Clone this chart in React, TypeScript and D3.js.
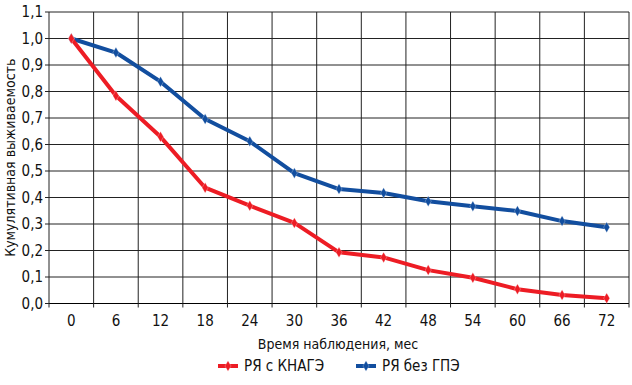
import * as d3 from 'd3';

const MONTHS = ['0', '6', '12', '18', '24', '30', '36', '42', '48', '54', '60', '66', '72'];
const WITH_KNAGE = [1.0, 0.784, 0.629, 0.437, 0.369, 0.304, 0.193, 0.174, 0.126, 0.097, 0.054, 0.032, 0.02];
const WITHOUT_GPE = [1.0, 0.947, 0.837, 0.696, 0.612, 0.492, 0.432, 0.417, 0.386, 0.367, 0.349, 0.311, 0.288];
const Y_TICKS = [0, 0.1, 0.2, 0.3, 0.4, 0.5, 0.6, 0.7, 0.8, 0.9, 1.0, 1.1];

const RED = '#ED1C24';
const BLUE = '#124E9F';
const FONT = "'Liberation Sans Narrow', 'DejaVu Sans Condensed', 'Roboto', sans-serif";

const W = 632;
const H = 385;
const M = { left: 49, right: 3, top: 12, bottom: 81.5 };

export default function App() {
  const innerW = W - M.left - M.right;
  const innerH = H - M.top - M.bottom;

  const x = d3.scaleBand<string>().domain(MONTHS).range([M.left, M.left + innerW]);
  const y = d3.scaleLinear().domain([0, 1.1]).range([M.top + innerH, M.top]);
  const bw = x.bandwidth();
  const cx = (m: string) => (x(m) ?? 0) + bw / 2;

  const line = d3.line<number>()
    .x((_, i) => cx(MONTHS[i]))
    .y((v) => y(v));

  const diamond = d3.symbol().type(d3.symbolDiamond).size(32)() ?? '';

  // band boundaries for vertical grid + ticks
  const bounds = MONTHS.map((m) => x(m) ?? 0).concat([M.left + innerW]);

  const series = [
    { name: 'РЯ с КНАГЭ', values: WITH_KNAGE, color: RED },
    { name: 'РЯ без ГПЭ', values: WITHOUT_GPE, color: BLUE },
  ];
  // blue underneath, red on top (visible at the shared 1.0 start)
  const drawOrder = [series[1], series[0]];

  const bottomY = y(0);

  return (
    <svg width={W} height={H} style={{ position: 'absolute', left: 0, top: 0, background: '#fff' }}>
      {/* horizontal grid */}
      {Y_TICKS.map((t) => (
        <line key={'h' + t} x1={M.left} x2={M.left + innerW} y1={y(t)} y2={y(t)}
          stroke={t === 0 ? '#000' : '#222'} strokeWidth={1} />
      ))}
      {/* vertical grid */}
      {bounds.map((b, i) => (
        <line key={'v' + i} x1={b} x2={b} y1={M.top} y2={bottomY} stroke="#222" strokeWidth={1} />
      ))}
      {/* x ticks */}
      {bounds.map((b, i) => (
        <line key={'xt' + i} x1={b} x2={b} y1={bottomY} y2={bottomY + 4} stroke="#222" strokeWidth={1} />
      ))}
      {/* y ticks */}
      {Y_TICKS.map((t) => (
        <line key={'yt' + t} x1={M.left - 4} x2={M.left} y1={y(t)} y2={y(t)} stroke="#222" strokeWidth={1} />
      ))}
      {/* y tick labels */}
      {Y_TICKS.map((t) => (
        <text key={'yl' + t} x={M.left - 6} y={y(t)} dy="0.36em" textAnchor="end"
          fontFamily={FONT} fontSize={15} fill="#111">
          {t.toFixed(1).replace('.', ',')}
        </text>
      ))}
      {/* x tick labels */}
      {MONTHS.map((m) => (
        <text key={'xl' + m} x={cx(m)} y={bottomY + 22} textAnchor="middle"
          fontFamily={FONT} fontSize={15} fill="#111">
          {m}
        </text>
      ))}
      {/* axis titles */}
      <text x={M.left + innerW / 2 - 1} y={bottomY + 45} textAnchor="middle"
        fontFamily={FONT} fontSize={14} fill="#111">
        Время наблюдения, мес
      </text>
      <text transform={`translate(15, ${M.top + innerH / 2}) rotate(-90)`} textAnchor="middle"
        fontFamily={FONT} fontSize={14} fill="#111">
        Кумулятивная выживаемость
      </text>

      {/* series */}
      {drawOrder.map((s) => (
        <g key={s.name}>
          <path d={line(s.values) ?? ''} fill="none" stroke={s.color} strokeWidth={4}
            strokeLinejoin="round" strokeLinecap="round" />
          {s.values.map((v, i) => (
            <path key={i} d={diamond} transform={`translate(${cx(MONTHS[i])}, ${y(v)})`}
              fill={s.color} stroke="#fff" strokeOpacity={0.35} strokeWidth={0.8} />
          ))}
        </g>
      ))}

      {/* legend */}
      {series.map((s, i) => {
        const lx = i === 0 ? 218 : 356;
        const ly = 366;
        return (
          <g key={'lg' + s.name}>
            <line x1={lx} x2={lx + 20} y1={ly} y2={ly} stroke={s.color} strokeWidth={4} />
            <path d={diamond} transform={`translate(${lx + 10}, ${ly})`} fill={s.color}
              stroke="#fff" strokeOpacity={0.35} strokeWidth={0.8} />
            <text x={lx + 26} y={ly} dy="0.36em" fontFamily={FONT} fontSize={15} fill="#111">
              {s.name}
            </text>
          </g>
        );
      })}
    </svg>
  );
}
